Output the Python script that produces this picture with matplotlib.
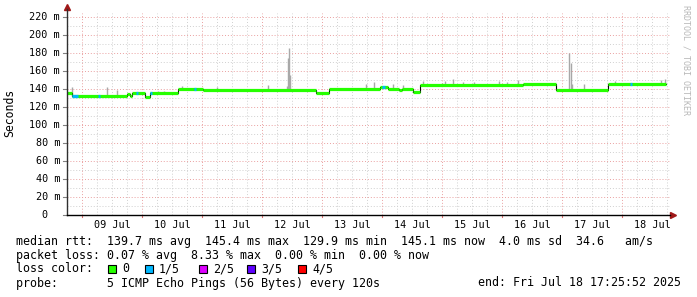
import numpy as np
import matplotlib
matplotlib.use('Agg')
import matplotlib.pyplot as plt

W, H = 697, 297
mono = 'DejaVu Sans Mono'

# median rtt (ms) as steps: start day (days since Jul 8 00:00) and value
step_day = [0.75, 0.833, 1.75, 1.8, 1.833, 2.05, 2.133, 2.6, 3.017, 4.9,
            5.117, 5.967, 6.1, 6.283, 6.333, 6.517, 6.633, 8.35, 8.9, 9.767]
step_rtt = [135, 132.5, 134, 132, 136, 131, 135, 140.5, 138.5, 135.5,
            140, 142, 140, 138.5, 140, 137, 144.5, 145, 139, 145.2]
end_day = 10.727

# stretches with 1/5 packet loss
loss_start = [0.833, 1.267, 1.9, 2.133, 2.867, 6.0, 10.133]
loss_end = [0.933, 1.3, 1.933, 2.167, 2.9, 6.05, 10.167]

# smoke (max rtt) spikes
smoke_day = [0.833, 1.417, 1.583, 2.267, 2.367, 2.667, 3.25, 4.1, 4.417, 4.433,
             4.45, 4.467, 5.733, 5.867, 6.183, 6.35, 6.683, 7.0, 7.05, 7.183,
             7.35, 7.533, 7.95, 8.083, 8.267, 8.583, 8.783, 9.117, 9.15, 9.167,
             9.367, 9.883, 10.017, 10.65, 10.717]
smoke_top = [142.6, 142.6, 139, 137.8, 137.8, 143.3, 142.6, 144.4, 143.7, 174,
             186, 155, 145.6, 147.8, 145.6, 144.4, 149, 147, 149, 150.7,
             147.6, 148, 149, 148, 150, 147, 147, 179.6, 168.5, 145.6,
             145, 149, 147, 150, 151]

day_labels = ['09 Jul', '10 Jul', '11 Jul', '12 Jul', '13 Jul',
              '14 Jul', '15 Jul', '16 Jul', '17 Jul', '18 Jul']
loss_names = ['0', '1/5', '2/5', '3/5', '4/5']
loss_colors = ['#26ff00', '#00b8ff', '#dd00ff', '#5e00ff', '#ff0000']


def px(x, y):
    return x / W, 1 - y / H


def rtt_at(d):
    i = np.searchsorted(step_day, d, side='right') - 1
    return step_rtt[max(i, 0)]


fig = plt.figure(figsize=(W / 100, H / 100), dpi=100)
ax = fig.add_axes([67 / W, 82 / H, 603 / W, 202 / H])
ax.set_xlim(0.75, 10.8)
ax.set_ylim(0, 224.4)
for s in ax.spines.values():
    s.set_visible(False)
ax.set_xticks([])
ax.set_yticks([])

# grid
dot = (0, (1, 2))
for v in range(10, 221, 10):
    if v % 20:
        ax.axhline(v, color='#d0d0d0', lw=0.7, ls=dot, zorder=1)
for v in range(20, 221, 20):
    ax.axhline(v, color='#eaa0a0', lw=0.7, ls=dot, zorder=1.1)
for d in np.arange(1.0, 10.8, 0.25):
    if d % 1:
        ax.axvline(d, color='#d0d0d0', lw=0.7, ls=dot, zorder=1)
for d in range(1, 11):
    ax.axvline(d, color='#eaa0a0', lw=0.7, ls=dot, zorder=1.1)

# smoke
base = [rtt_at(d) for d in smoke_day]
ax.vlines(smoke_day, base, smoke_top, color='#a8a8a8', lw=1.0, zorder=2)

# median line
xs = step_day + [end_day]
ys = step_rtt + [step_rtt[-1]]
ax.plot(xs, ys, drawstyle='steps-post', color='black', lw=0.8, zorder=3)
ax.hlines(step_rtt, step_day, xs[1:], color=loss_colors[0], lw=2.3, zorder=4)
for a, b in zip(loss_start, loss_end):
    ax.hlines(rtt_at(a), a, b, color=loss_colors[1], lw=2.3, zorder=5)

# axes lines and arrows
ax.plot([0, 0], [0, 1.02], transform=ax.transAxes, color='#303030', lw=1, clip_on=False, zorder=6)
ax.plot([0, 1.0], [0, 0], transform=ax.transAxes, color='black', lw=1, clip_on=False, zorder=6)
ax.plot([0], [1.03], transform=ax.transAxes, marker='^', ms=4, color='#a01818', clip_on=False)
ax.plot([1.005], [0], transform=ax.transAxes, marker='>', ms=4, color='#a01818', clip_on=False)
for v in range(0, 221, 20):
    ax.plot([0.75 - 0.07, 0.75], [v, v], color='#808080', lw=0.8, clip_on=False)
for d in range(1, 11):
    ax.plot([d, d], [0, -2.5], color='#e07070', lw=0.8, clip_on=False)

# tick labels
for v in range(0, 221, 20):
    lab = '%d m' % v if v else '0  '
    y = 215 - v * 0.9
    fig.text(*px(60, y), lab, ha='right', va='center', fontsize=7.3, family=mono, color='black')
for i, lab in enumerate(day_labels):
    fig.text(*px(112 + 60 * i, 224.5), lab, ha='center', va='center', fontsize=7.3, family=mono)

fig.text(*px(10, 113), 'Seconds', rotation=90, ha='center', va='center', fontsize=8.3, family=mono)
fig.text(*px(686, 5), 'RRDTOOL / TOBI OETIKER', rotation=-90, ha='center', va='top',
         fontsize=6, family=mono, color='#b8b8b8')

# legend rows
fig.text(*px(16, 241), 'median rtt:  139.7 ms avg  145.4 ms max  129.9 ms min  145.1 ms now  4.0 ms sd  34.6   am/s',
         ha='left', va='center', fontsize=8.4, family=mono)
fig.text(*px(16, 255), 'packet loss: 0.07 % avg  8.33 % max  0.00 % min  0.00 % now',
         ha='left', va='center', fontsize=8.4, family=mono)
fig.text(*px(16, 269), 'loss color:', ha='left', va='center', fontsize=8.4, family=mono)
box_x = [108, 145, 199, 247, 298]
for bx, name, c in zip(box_x, loss_names, loss_colors):
    fig.patches.append(plt.Rectangle(px(bx, 273), 8 / W, 8 / H, transform=fig.transFigure,
                                     facecolor=c, edgecolor='black', lw=0.8))
    fig.text(*px(bx + 14, 269), name, ha='left', va='center', fontsize=8.4, family=mono)
fig.text(*px(16, 283), 'probe:       5 ICMP Echo Pings (56 Bytes) every 120s',
         ha='left', va='center', fontsize=8.4, family=mono)
fig.text(*px(681, 283), 'end: Fri Jul 18 17:25:52 2025', ha='right', va='center', fontsize=8.4, family=mono)

plt.savefig('out.png', dpi=100)
